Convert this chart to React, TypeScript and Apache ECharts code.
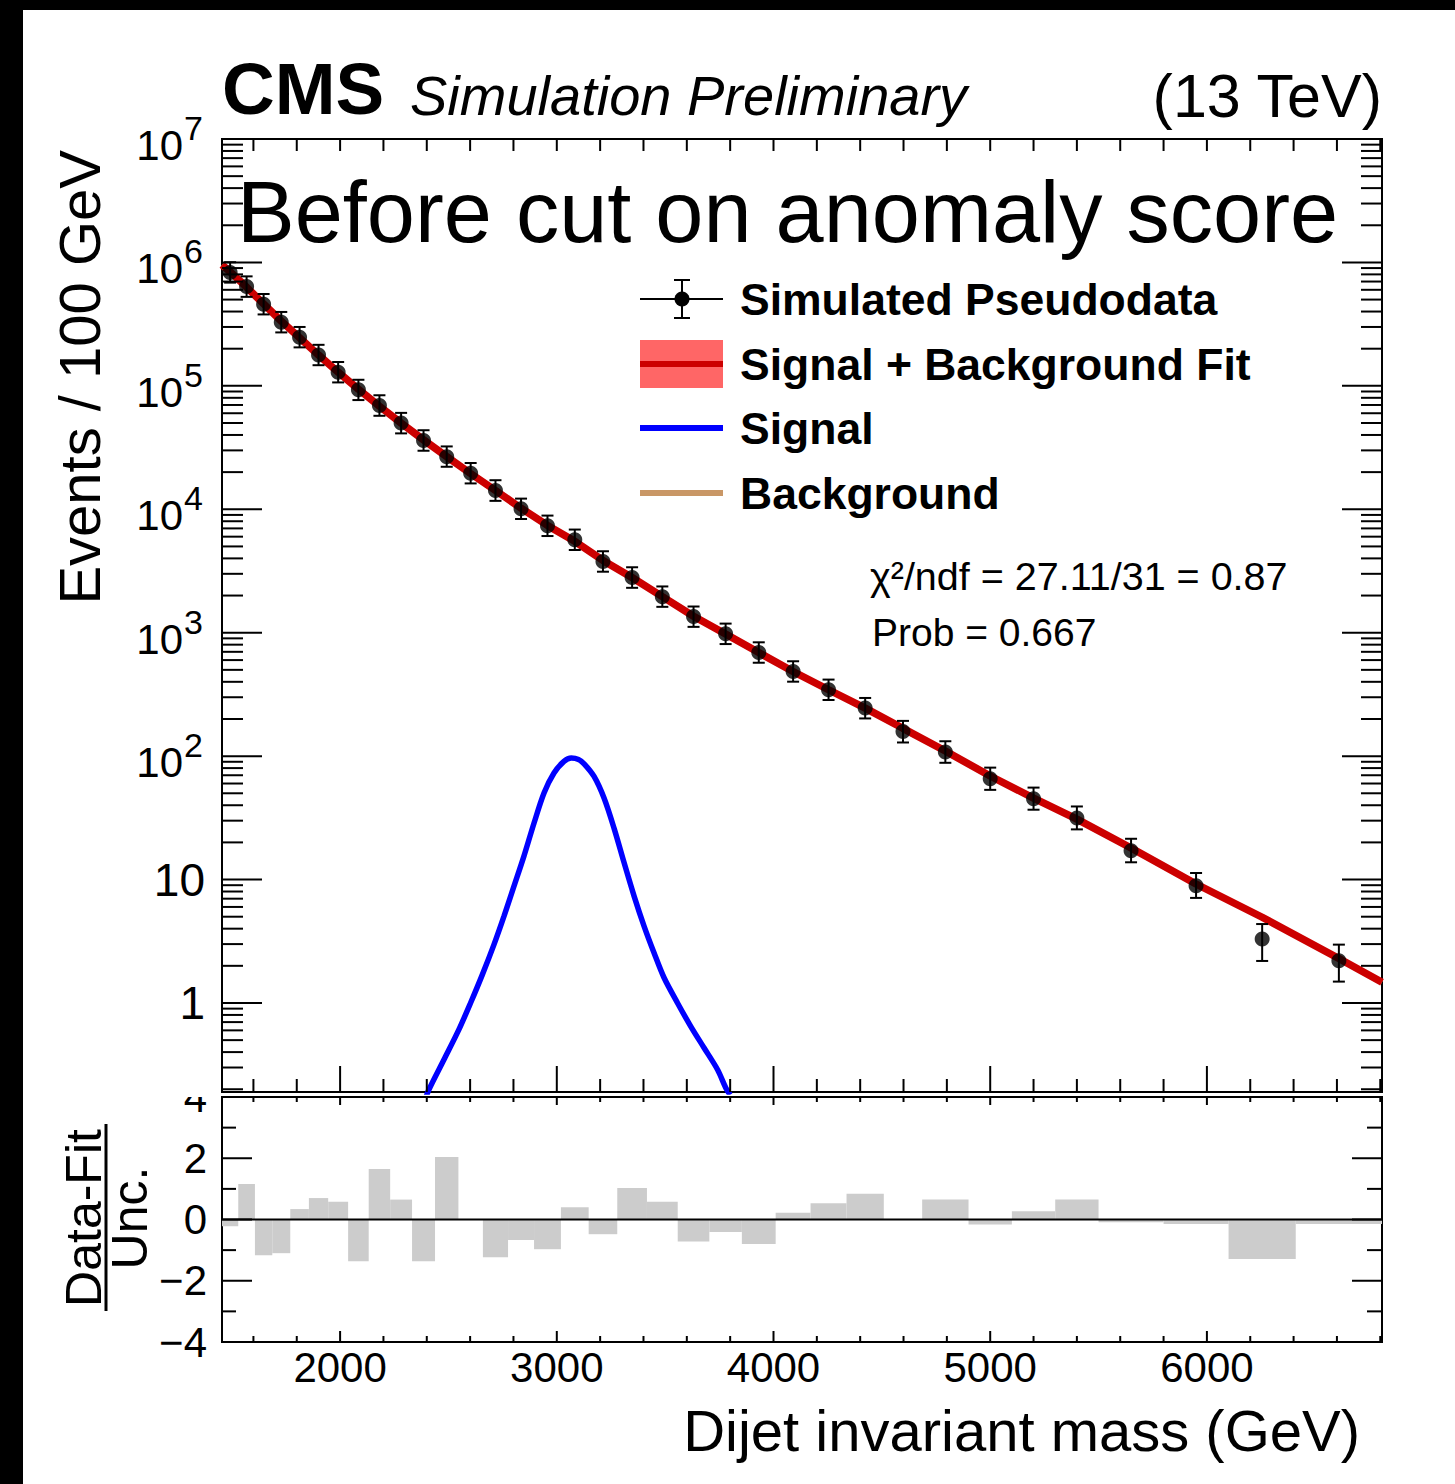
import React, { useEffect, useRef } from "react";
import * as echarts from "echarts";

// ---------- data ----------
const binEdges = [1455, 1530, 1607, 1687, 1770, 1856, 1945, 2037, 2132, 2231, 2332, 2438, 2546, 2659, 2775, 2895, 3019, 3147, 3279, 3416, 3558, 3704, 3854, 4010, 4171, 4337, 4509, 4686, 4900, 5100, 5300, 5500, 5800, 6100, 6410, 6808];
const dataValues = [830000, 637000, 459000, 328000, 248000, 178000, 129000, 92800, 69300, 49900, 36100, 26700, 19600, 14200, 10100, 7350, 5660, 3780, 2800, 1960, 1350, 979, 691, 485, 345, 245, 158, 108, 65.6, 45.2, 31.5, 17.1, 8.91, 3.30, 2.20];
const dataErrHigh = [1004000, 771000, 555000, 397000, 300000, 215000, 156000, 112000, 83900, 60400, 43700, 32300, 23700, 17200, 12200, 8890, 6850, 4570, 3390, 2370, 1630, 1185, 836, 587, 417, 296, 193, 132, 80.7, 55.6, 39.1, 21.4, 11.3, 4.36, 2.97];
const dataErrLow = [686000, 526000, 379000, 271000, 205000, 147000, 106600, 76700, 57200, 41200, 29800, 22100, 16200, 11700, 8340, 6070, 4680, 3120, 2310, 1620, 1115, 809, 571, 401, 285, 202, 129, 88.3, 53.3, 36.8, 25.5, 13.8, 7.1, 2.19, 1.49];
const residuals = [-0.22, 1.16, -1.17, -1.10, 0.34, 0.70, 0.58, -1.36, 1.65, 0.65, -1.36, 2.04, 0.0, -1.23, -0.67, -0.97, 0.40, -0.48, 1.03, 0.58, -0.72, -0.41, -0.80, 0.22, 0.53, 0.84, 0.0, 0.65, -0.16, 0.27, 0.65, -0.09, -0.15, -1.29, -0.15];

const fitMass = [1455, 1492, 1568, 1647, 1728, 1813, 1900, 1991, 2084, 2181, 2281, 2385, 2492, 2602, 2717, 2835, 2957, 3083, 3213, 3347, 3487, 3631, 3779, 3932, 4090, 4254, 4423, 4597, 4793, 5000, 5200, 5400, 5650, 5950, 6255, 6609, 6808];
const fitValues = [955000, 841000, 631000, 462000, 335000, 245500, 178000, 129000, 94000, 68500, 50000, 36500, 26700, 19500, 14200, 10200, 7400, 5500, 3850, 2800, 1960, 1360, 977, 690, 485, 345, 245, 168, 110, 69, 45.7, 30.9, 18.0, 9.2, 4.95, 2.29, 1.47];
const bkgValues = [955000, 841000, 631000, 462000, 335000, 245500, 178000, 129000, 94000, 68500, 50000, 36500, 26700, 19500, 14200, 10200, 7380, 5400, 3840, 2800, 1960, 1360, 977, 690, 485, 345, 245, 168, 110, 69, 45.7, 30.9, 18.0, 9.2, 4.95, 2.29, 1.47];

const sigMass = [2390, 2410, 2479, 2548, 2602, 2656, 2710, 2756, 2802, 2848, 2895, 2941, 2987, 3033, 3067, 3100, 3126, 3172, 3218, 3264, 3311, 3357, 3403, 3449, 3495, 3557, 3618, 3680, 3742, 3780, 3800];
const sigValues = [0.16, 0.199, 0.347, 0.608, 1.0, 1.69, 2.97, 5.03, 8.79, 15.4, 28.7, 50.2, 72.9, 90.6, 96.4, 94, 86.7, 68.4, 45.7, 26.1, 13.6, 7.31, 4.18, 2.54, 1.60, 1.0, 0.647, 0.432, 0.288, 0.205, 0.18];

const xMin = 1455;
const xMax = 6808;
const yMin = 0.19;
const yMax = 1e7;
const xMajorTicks = [2000, 3000, 4000, 5000, 6000];
const xMinorTicks = [1600, 1800, 2200, 2400, 2600, 2800, 3200, 3400, 3600, 3800, 4200, 4400, 4600, 4800, 5200, 5400, 5600, 5800, 6200, 6400, 6600, 6800];
const yMajorTicks = [1, 10, 100, 1e3, 1e4, 1e5, 1e6, 1e7];
const yMinorMultipliers = [2, 3, 4, 5, 6, 7, 8, 9];
const yMinorDecades = [0.1, 1, 10, 100, 1e3, 1e4, 1e5, 1e6];
const rMajorTicks = [-2, 0, 2];
const rMinorTicks = [-3, -1, 1, 3];

const legendLabels = ["Simulated Pseudodata", "Signal + Background Fit", "Signal", "Background"];
const FONT = "'Liberation Sans', Arial, Helvetica, sans-serif";

export default function App() {
  const ref = useRef<HTMLDivElement>(null);

  useEffect(() => {
    if (!ref.current) return;
    const chart = echarts.init(ref.current, undefined, { renderer: "svg" });

    const centers = dataValues.map((_, i) => (binEdges[i] + binEdges[i + 1]) / 2);
    const yMinor: number[] = [];
    yMinorDecades.forEach((d) => yMinorMultipliers.forEach((m) => {
      const v = m * d;
      if (v >= yMin && v <= yMax) yMinor.push(v);
    }));

    const mainTicks: number[][] = [];
    yMajorTicks.forEach((v) => { mainTicks.push([xMin, v, 40, 0]); mainTicks.push([xMax, v, -40, 0]); });
    yMinor.forEach((v) => { mainTicks.push([xMin, v, 21, 0]); mainTicks.push([xMax, v, -21, 0]); });
    xMajorTicks.forEach((m) => { mainTicks.push([m, yMin, 0, -26]); mainTicks.push([m, yMax, 0, 12]); });
    xMinorTicks.forEach((m) => { mainTicks.push([m, yMin, 0, -13]); mainTicks.push([m, yMax, 0, 12]); });

    const ratioTicks: number[][] = [];
    rMajorTicks.forEach((v) => { ratioTicks.push([xMin, v, 30, 0]); ratioTicks.push([xMax, v, -30, 0]); });
    rMinorTicks.forEach((v) => { ratioTicks.push([xMin, v, 14, 0]); ratioTicks.push([xMax, v, -15, 0]); });
    xMajorTicks.forEach((m) => { ratioTicks.push([m, -4, 0, -11]); ratioTicks.push([m, 4, 0, 8]); });
    xMinorTicks.forEach((m) => { ratioTicks.push([m, -4, 0, -6]); ratioTicks.push([m, 4, 0, 5]); });

    const tickRender = (params: any, api: any) => {
      const p = api.coord([api.value(0), api.value(1)]);
      return {
        type: "line",
        shape: { x1: p[0], y1: p[1], x2: p[0] + api.value(2), y2: p[1] + api.value(3) },
        style: { stroke: "#000", lineWidth: 2 },
      };
    };

    const legendRowsY = [299, 364, 428, 493];

    const baseGraphics: any[] = [
      { type: "rect", z: 100, shape: { x: 0, y: 0, width: 23, height: 1484 }, style: { fill: "#000" } },
      { type: "rect", z: 100, shape: { x: 0, y: 0, width: 1455, height: 10 }, style: { fill: "#000" } },
      { type: "rect", z: 100, shape: { x: 120, y: 1060, width: 100, height: 37 }, style: { fill: "#fff" } },
      // header
      { type: "text", z: 100, x: 222, y: 88, style: { text: "CMS", fontSize: 73, fontWeight: "bold", fontFamily: FONT, fill: "#000", align: "left", verticalAlign: "middle" } },
      { type: "text", z: 100, x: 410, y: 95, style: { text: "Simulation Preliminary", fontSize: 56, fontStyle: "italic", fontFamily: FONT, fill: "#000", align: "left", verticalAlign: "middle" } },
      { type: "text", z: 100, x: 1382, y: 96, style: { text: "(13 TeV)", fontSize: 61, fontFamily: FONT, fill: "#000", align: "right", verticalAlign: "middle" } },
      { type: "text", z: 100, x: 237, y: 212, style: { text: "Before cut on anomaly score", fontSize: 86.5, fontFamily: FONT, fill: "#000", align: "left", verticalAlign: "middle" } },
      // legend symbols
      { type: "line", z: 100, shape: { x1: 640, y1: legendRowsY[0], x2: 723, y2: legendRowsY[0] }, style: { stroke: "#000", lineWidth: 2 } },
      { type: "line", z: 100, shape: { x1: 682, y1: legendRowsY[0] - 19, x2: 682, y2: legendRowsY[0] + 19 }, style: { stroke: "#000", lineWidth: 2 } },
      { type: "line", z: 100, shape: { x1: 674, y1: legendRowsY[0] - 19, x2: 690, y2: legendRowsY[0] - 19 }, style: { stroke: "#000", lineWidth: 2 } },
      { type: "line", z: 100, shape: { x1: 674, y1: legendRowsY[0] + 19, x2: 690, y2: legendRowsY[0] + 19 }, style: { stroke: "#000", lineWidth: 2 } },
      { type: "circle", z: 100, shape: { cx: 682, cy: legendRowsY[0], r: 7.5 }, style: { fill: "#000" } },
      { type: "rect", z: 100, shape: { x: 640, y: legendRowsY[1] - 24, width: 83, height: 48 }, style: { fill: "#ff6666" } },
      { type: "line", z: 100, shape: { x1: 640, y1: legendRowsY[1], x2: 723, y2: legendRowsY[1] }, style: { stroke: "#cc0000", lineWidth: 6 } },
      { type: "line", z: 100, shape: { x1: 640, y1: legendRowsY[2], x2: 723, y2: legendRowsY[2] }, style: { stroke: "#0000ff", lineWidth: 6 } },
      { type: "line", z: 100, shape: { x1: 640, y1: legendRowsY[3], x2: 723, y2: legendRowsY[3] }, style: { stroke: "#c99766", lineWidth: 6 } },
      ...legendLabels.map((t, i) => ({
        type: "text", z: 100, x: 740, y: legendRowsY[i],
        style: { text: t, fontSize: 44.5, fontWeight: "bold", fontFamily: FONT, fill: "#000", align: "left", verticalAlign: "middle" },
      })),
      // fit stats
      { type: "text", z: 100, x: 870, y: 576, style: { text: "\u03c7\u00b2/ndf = 27.11/31 = 0.87", fontSize: 39.5, fontFamily: FONT, fill: "#000", align: "left", verticalAlign: "middle" } },
      { type: "text", z: 100, x: 872, y: 632, style: { text: "Prob = 0.667", fontSize: 39, fontFamily: FONT, fill: "#000", align: "left", verticalAlign: "middle" } },
      // axis titles
      { type: "text", z: 100, x: 79, y: 150, rotation: Math.PI / 2, style: { text: "Events / 100 GeV", fontSize: 58, fontFamily: FONT, fill: "#000", align: "right", verticalAlign: "middle" } },
      { type: "text", z: 100, x: 84, y: 1218, rotation: Math.PI / 2, style: { text: "Data-Fit", fontSize: 50, fontFamily: FONT, fill: "#000", align: "center", verticalAlign: "middle" } },
      { type: "line", z: 100, shape: { x1: 106, y1: 1124, x2: 106, y2: 1311 }, style: { stroke: "#000", lineWidth: 3 } },
      { type: "text", z: 100, x: 130, y: 1218, rotation: Math.PI / 2, style: { text: "Unc.", fontSize: 50, fontFamily: FONT, fill: "#000", align: "center", verticalAlign: "middle" } },
      { type: "text", z: 100, x: 1360, y: 1430, style: { text: "Dijet invariant mass (GeV)", fontSize: 58, fontFamily: FONT, fill: "#000", align: "right", verticalAlign: "middle" } },
    ];

    const option: any = {
      animation: false,
      backgroundColor: "#fff",
      textStyle: { fontFamily: FONT },
      grid: [
        { left: 222, top: 139, width: 1160, height: 953, show: true, borderColor: "#000", borderWidth: 2, backgroundColor: "transparent" },
        { left: 222, top: 1097, width: 1160, height: 245, show: true, borderColor: "#000", borderWidth: 2, backgroundColor: "transparent" },
      ],
      xAxis: [
        { type: "value", gridIndex: 0, min: xMin, max: xMax, axisLine: { show: false }, axisTick: { show: false }, axisLabel: { show: false }, splitLine: { show: false } },
        {
          type: "value", gridIndex: 1, min: xMin, max: xMax, axisLine: { show: false }, axisTick: { show: false }, splitLine: { show: false },
          axisLabel: {
            show: true, margin: 4, fontSize: 42, color: "#000", fontFamily: FONT,
            formatter: (v: number) => (Math.abs(v % 1000) < 1e-6 ? String(v) : ""),
            showMinLabel: false, showMaxLabel: false,
          },
        },
      ],
      yAxis: [
        {
          type: "log", gridIndex: 0, min: yMin, max: yMax, logBase: 10, splitNumber: 8,
          axisLine: { show: false }, axisTick: { show: false }, splitLine: { show: false }, axisLabel: { show: false },
        },
        {
          type: "value", gridIndex: 1, min: -4, max: 4, interval: 2,
          axisLine: { show: false }, axisTick: { show: false }, splitLine: { show: false },
          axisLabel: {
            show: true, margin: 15, fontSize: 42, color: "#000", fontFamily: FONT,
            formatter: (v: number) => (v < 0 ? "\u2212" + Math.abs(v) : String(v)),
          },
        },
      ],
      series: [
        // ratio panel
        {
          type: "custom", xAxisIndex: 1, yAxisIndex: 1, z: 2,
          data: residuals.map((r, i) => [binEdges[i], binEdges[i + 1], r]),
          encode: { x: [0, 1], y: 2 },
          renderItem: (params: any, api: any) => {
            const a = api.coord([api.value(0), api.value(2)]);
            const b = api.coord([api.value(1), 0]);
            return {
              type: "rect",
              shape: { x: Math.min(a[0], b[0]), y: Math.min(a[1], b[1]), width: Math.abs(b[0] - a[0]), height: Math.abs(b[1] - a[1]) },
              style: { fill: "#cccccc" },
            };
          },
        },
        {
          type: "line", xAxisIndex: 1, yAxisIndex: 1, z: 3, symbol: "none",
          data: [[xMin, 0], [xMax, 0]], lineStyle: { color: "#000", width: 2 },
        },
        { type: "custom", xAxisIndex: 1, yAxisIndex: 1, z: 4, data: ratioTicks, encode: { x: 0, y: 1 }, renderItem: tickRender },
        // main panel
        {
          name: "Signal", type: "line", xAxisIndex: 0, yAxisIndex: 0, z: 3, symbol: "none", smooth: 0.3,
          data: sigMass.map((m, i) => [m, sigValues[i]]), lineStyle: { color: "#0000ff", width: 5.5 },
        },
        {
          name: "Background", type: "line", xAxisIndex: 0, yAxisIndex: 0, z: 4, symbol: "none",
          data: fitMass.map((m, i) => [m, bkgValues[i]]), lineStyle: { color: "#c99766", width: 4 },
        },
        {
          name: "Signal + Background Fit", type: "line", xAxisIndex: 0, yAxisIndex: 0, z: 5, symbol: "none",
          data: fitMass.map((m, i) => [m, fitValues[i]]), lineStyle: { color: "#cc0000", width: 7.5 },
        },
        {
          type: "custom", xAxisIndex: 0, yAxisIndex: 0, z: 6,
          data: centers.map((c, i) => [c, dataErrLow[i], dataErrHigh[i]]),
          encode: { x: 0, y: [1, 2] },
          renderItem: (params: any, api: any) => {
            const lo = api.coord([api.value(0), api.value(1)]);
            const hi = api.coord([api.value(0), api.value(2)]);
            const st = { stroke: "#000", lineWidth: 2 };
            return {
              type: "group",
              children: [
                { type: "line", shape: { x1: lo[0], y1: lo[1], x2: hi[0], y2: hi[1] }, style: st },
                { type: "line", shape: { x1: lo[0] - 6, y1: lo[1], x2: lo[0] + 6, y2: lo[1] }, style: st },
                { type: "line", shape: { x1: hi[0] - 6, y1: hi[1], x2: hi[0] + 6, y2: hi[1] }, style: st },
              ],
            };
          },
        },
        {
          name: "Simulated Pseudodata", type: "scatter", xAxisIndex: 0, yAxisIndex: 0, z: 7,
          symbol: "circle", symbolSize: 15, itemStyle: { color: "#000" },
          data: centers.map((c, i) => [c, dataValues[i]]),
        },
        { type: "custom", xAxisIndex: 0, yAxisIndex: 0, z: 8, data: mainTicks, encode: { x: 0, y: 1 }, renderItem: tickRender },
      ],
      graphic: baseGraphics,
    };

    chart.setOption(option);

    // y-axis labels of the log axis, placed through the axis' own scale
    const labelGraphics: any[] = [];
    yMajorTicks.forEach((v) => {
      const y = chart.convertToPixel({ yAxisIndex: 0 }, v) as number;
      const e = Math.round(Math.log10(v));
      if (e <= 1) {
        labelGraphics.push({ type: "text", z: 100, x: 205, y, style: { text: String(v), fontSize: 46, fontFamily: FONT, fill: "#000", align: "right", verticalAlign: "middle" } });
      } else {
        labelGraphics.push({ type: "text", z: 100, x: 183, y: y + 6.5, style: { text: "10", fontSize: 42, fontFamily: FONT, fill: "#000", align: "right", verticalAlign: "middle" } });
        labelGraphics.push({ type: "text", z: 100, x: 184, y: y - 11, style: { text: String(e), fontSize: 34, fontFamily: FONT, fill: "#000", align: "left", verticalAlign: "middle" } });
      }
    });
    chart.setOption({ graphic: [...baseGraphics, ...labelGraphics] });

    return () => chart.dispose();
  }, []);

  return <div ref={ref} style={{ position: "absolute", left: 0, top: 0, width: 1455, height: 1484 }} />;
}
